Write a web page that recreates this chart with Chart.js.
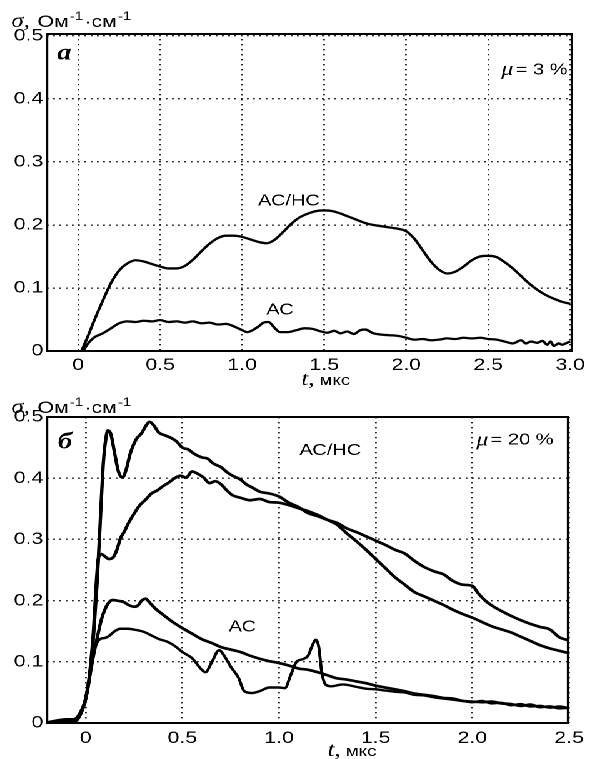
<!DOCTYPE html>
<html>
<head>
<meta charset="utf-8">
<script src="https://cdn.jsdelivr.net/npm/chart.js@4.4.1/dist/chart.umd.min.js"></script>
<style>
  html, body { margin: 0; padding: 0; background: #fff; overflow: hidden; }
  /* the original figure is stretched sideways, so the whole drawing is too */
  #wrap { position: absolute; left: 0; top: 0; width: 472px; height: 759px; transform: scaleX(1.25); transform-origin: 0 0; }
  #wrap canvas { position: absolute; left: 0; }
  #top { top: 0; }
  #bot { top: 390px; }
</style>
</head>
<body>
<div id="wrap">
  <canvas id="top" width="472" height="390"></canvas>
  <canvas id="bot" width="472" height="369"></canvas>
</div>
<script>
// ---- panel а, mu = 3 % ----
const topXTicks = [0, 0.5, 1.0, 1.5, 2.0, 2.5, 3.0];
const topXLabels = ['0', '0.5', '1.0', '1.5', '2.0', '2.5', '3.0'];
const yTicks = [0, 0.1, 0.2, 0.3, 0.4, 0.5];
const yLabels = ['0', '0.1', '0.2', '0.3', '0.4', '0.5'];

const topHcT = [0.02, 0.06, 0.1, 0.15, 0.2, 0.25, 0.3, 0.35, 0.4, 0.45, 0.5, 0.55, 0.6, 0.65, 0.7, 0.75, 0.8, 0.85, 0.9, 0.95,
  1.0, 1.05, 1.1, 1.15, 1.2, 1.25, 1.3, 1.35, 1.4, 1.45, 1.5, 1.55, 1.6, 1.65, 1.7, 1.75, 1.8, 1.85, 1.9, 1.95,
  2.0, 2.05, 2.1, 2.15, 2.2, 2.25, 2.3, 2.35, 2.4, 2.45, 2.5, 2.55, 2.6, 2.65, 2.7, 2.75, 2.8, 2.85, 2.9, 2.95, 3.0];
const topHcS = [0, 0.024, 0.05, 0.08, 0.108, 0.128, 0.139, 0.144, 0.142, 0.138, 0.134, 0.131, 0.131, 0.135, 0.145, 0.158, 0.17, 0.179, 0.183, 0.183,
  0.181, 0.177, 0.173, 0.171, 0.177, 0.189, 0.202, 0.212, 0.218, 0.222, 0.223, 0.222, 0.218, 0.213, 0.208, 0.203, 0.2, 0.198, 0.196, 0.194,
  0.19, 0.178, 0.16, 0.142, 0.129, 0.123, 0.126, 0.134, 0.144, 0.15, 0.151, 0.149, 0.141, 0.131, 0.119, 0.107, 0.097, 0.089, 0.083, 0.078, 0.075];

const topAcT = [0.03, 0.06, 0.1, 0.15, 0.2, 0.25, 0.3, 0.35, 0.4, 0.45, 0.5, 0.55, 0.6, 0.65, 0.7, 0.75, 0.8, 0.85, 0.9, 0.95,
  1.0, 1.03, 1.07, 1.1, 1.13, 1.16, 1.2, 1.23, 1.28, 1.33, 1.38, 1.43, 1.48, 1.52, 1.56, 1.6, 1.64, 1.68, 1.72, 1.75, 1.8, 1.85, 1.9, 1.95,
  2.0, 2.05, 2.1, 2.15, 2.2, 2.25, 2.3, 2.35, 2.4, 2.45, 2.5, 2.55, 2.6, 2.65, 2.7, 2.73, 2.76, 2.8, 2.83, 2.86, 2.88, 2.9, 2.93, 2.95, 2.98, 3.0];
const topAcS = [0, 0.012, 0.022, 0.028, 0.036, 0.044, 0.047, 0.046, 0.048, 0.047, 0.049, 0.046, 0.047, 0.045, 0.047, 0.044, 0.045, 0.042, 0.043, 0.039,
  0.033, 0.030, 0.034, 0.039, 0.045, 0.046, 0.036, 0.030, 0.030, 0.033, 0.036, 0.035, 0.031, 0.029, 0.032, 0.028, 0.031, 0.027, 0.033, 0.034, 0.028, 0.026, 0.025, 0.024,
  0.021, 0.018, 0.019, 0.017, 0.018, 0.020, 0.019, 0.021, 0.020, 0.021, 0.019, 0.018, 0.015, 0.012, 0.017, 0.012, 0.015, 0.013, 0.016, 0.010, 0.015, 0.008, 0.012, 0.010, 0.013, 0.015];

// ---- panel б, mu = 20 % ----
const botXTicks = [0, 0.5, 1.0, 1.5, 2.0, 2.5];
const botXLabels = ['0', '0.5', '1.0', '1.5', '2.0', '2.5'];

const botHc1T = [-0.2, -0.15, -0.1, -0.06, -0.03, 0, 0.02, 0.04, 0.06, 0.08, 0.09, 0.1, 0.115, 0.13, 0.15, 0.17, 0.19, 0.21, 0.23, 0.26, 0.29, 0.31, 0.33, 0.35, 0.38,
  0.41, 0.44, 0.47, 0.5, 0.53, 0.56, 0.6, 0.63, 0.66, 0.7, 0.73, 0.76, 0.8, 0.83, 0.86, 0.9, 0.95, 1.0, 1.05, 1.1, 1.15, 1.2, 1.25, 1.3, 1.35, 1.4, 1.45, 1.5,
  1.55, 1.6, 1.65, 1.7, 1.75, 1.8, 1.85, 1.9, 1.95, 2.0, 2.03, 2.07, 2.11, 2.15, 2.2, 2.25, 2.3, 2.35, 2.4, 2.45, 2.5];
const botHc1S = [0.001, 0.004, 0.006, 0.006, 0.016, 0.04, 0.075, 0.14, 0.235, 0.36, 0.42, 0.455, 0.478, 0.472, 0.44, 0.41, 0.401, 0.415, 0.44, 0.463, 0.474, 0.485, 0.492, 0.487, 0.474,
  0.47, 0.466, 0.46, 0.45, 0.447, 0.44, 0.434, 0.432, 0.424, 0.418, 0.41, 0.404, 0.398, 0.39, 0.385, 0.378, 0.375, 0.37, 0.36, 0.353, 0.343, 0.338, 0.332, 0.327, 0.318, 0.312, 0.305, 0.298,
  0.291, 0.283, 0.277, 0.265, 0.255, 0.248, 0.243, 0.232, 0.226, 0.224, 0.212, 0.199, 0.19, 0.183, 0.175, 0.168, 0.162, 0.157, 0.153, 0.14, 0.135];

const botHc2T = [-0.2, -0.15, -0.1, -0.06, -0.03, 0, 0.02, 0.04, 0.055, 0.065, 0.08, 0.1, 0.12, 0.14, 0.16, 0.18, 0.2, 0.22, 0.25, 0.28, 0.31, 0.34, 0.37, 0.4, 0.43, 0.46, 0.49,
  0.52, 0.55, 0.58, 0.61, 0.64, 0.67, 0.7, 0.73, 0.76, 0.8, 0.85, 0.9, 0.95, 1.0, 1.05, 1.1, 1.15, 1.2, 1.25, 1.3, 1.35, 1.4, 1.45, 1.5,
  1.55, 1.6, 1.65, 1.7, 1.75, 1.8, 1.85, 1.9, 1.95, 2.0, 2.05, 2.1, 2.15, 2.2, 2.25, 2.3, 2.35, 2.4, 2.45, 2.5];
const botHc2S = [0, 0.002, 0.003, 0.002, 0.012, 0.04, 0.08, 0.15, 0.23, 0.268, 0.276, 0.272, 0.268, 0.27, 0.282, 0.302, 0.313, 0.326, 0.342, 0.356, 0.365, 0.375, 0.38, 0.387, 0.393, 0.4, 0.404,
  0.401, 0.411, 0.407, 0.401, 0.392, 0.395, 0.39, 0.38, 0.372, 0.368, 0.364, 0.366, 0.361, 0.36, 0.356, 0.351, 0.346, 0.34, 0.332, 0.324, 0.31, 0.297, 0.283, 0.268,
  0.253, 0.238, 0.226, 0.214, 0.207, 0.2, 0.193, 0.185, 0.178, 0.172, 0.165, 0.158, 0.153, 0.148, 0.141, 0.134, 0.127, 0.122, 0.118, 0.114];

const botAc1T = [-0.2, -0.1, -0.05, -0.02, 0, 0.02, 0.04, 0.06, 0.08, 0.1, 0.12, 0.14, 0.16, 0.18, 0.2, 0.22, 0.25, 0.27, 0.29, 0.31, 0.33, 0.36, 0.4, 0.45, 0.5,
  0.55, 0.6, 0.65, 0.7, 0.75, 0.8, 0.85, 0.9, 0.95, 1.0, 1.05, 1.1, 1.15, 1.2, 1.25, 1.3, 1.35, 1.4, 1.45, 1.5, 1.55, 1.6, 1.65, 1.7, 1.75, 1.8, 1.85, 1.9, 1.95,
  2.0, 2.05, 2.1, 2.15, 2.2, 2.25, 2.3, 2.35, 2.4, 2.45, 2.5];
const botAc1S = [0, 0.004, 0.006, 0.02, 0.04, 0.075, 0.11, 0.14, 0.168, 0.186, 0.197, 0.201, 0.2, 0.199, 0.197, 0.193, 0.19, 0.192, 0.2, 0.203, 0.197, 0.187, 0.177, 0.165, 0.155,
  0.146, 0.137, 0.131, 0.124, 0.12, 0.116, 0.11, 0.105, 0.101, 0.098, 0.094, 0.089, 0.087, 0.083, 0.078, 0.073, 0.071, 0.068, 0.065, 0.061, 0.058, 0.055, 0.052, 0.048, 0.046, 0.044, 0.041, 0.04, 0.036,
  0.035, 0.034, 0.035, 0.032, 0.031, 0.028, 0.03, 0.026, 0.027, 0.024, 0.025];

const botAc2T = [-0.2, -0.1, -0.05, -0.02, 0, 0.02, 0.04, 0.06, 0.08, 0.1, 0.12, 0.15, 0.18, 0.22, 0.26, 0.3, 0.34, 0.38, 0.42, 0.46, 0.5, 0.55, 0.6, 0.62, 0.65, 0.69,
  0.72, 0.75, 0.79, 0.82, 0.86, 0.9, 0.95, 1.0, 1.03, 1.06, 1.09, 1.12, 1.15, 1.17, 1.19, 1.205, 1.22, 1.24, 1.27, 1.33, 1.4, 1.45, 1.5, 1.55, 1.6, 1.65, 1.7, 1.75,
  1.8, 1.85, 1.9, 1.95, 2.0, 2.05, 2.1, 2.15, 2.2, 2.25, 2.3, 2.35, 2.4, 2.45, 2.5];
const botAc2S = [0, 0.003, 0.008, 0.02, 0.04, 0.075, 0.115, 0.132, 0.138, 0.139, 0.142, 0.15, 0.154, 0.154, 0.152, 0.149, 0.143, 0.137, 0.133, 0.126, 0.116, 0.106, 0.087, 0.083, 0.098, 0.119,
  0.108, 0.092, 0.074, 0.052, 0.049, 0.052, 0.058, 0.058, 0.057, 0.078, 0.1, 0.104, 0.11, 0.125, 0.136, 0.125, 0.085, 0.063, 0.06, 0.063, 0.059, 0.056, 0.055, 0.053, 0.051, 0.05, 0.046, 0.045,
  0.042, 0.04, 0.038, 0.036, 0.034, 0.036, 0.032, 0.033, 0.029, 0.031, 0.027, 0.028, 0.025, 0.027, 0.024];

const SANS = '"Liberation Sans", Arial, sans-serif';
const SERIF = '"Liberation Serif", "Times New Roman", serif';

function pts(ts, ss) {
  return ts.map((t, i) => ({x: t, y: ss[i]}));
}

function line(ts, ss, w) {
  return {
    data: pts(ts, ss),
    borderColor: '#000',
    borderWidth: w,
    pointRadius: 0,
    fill: false,
    cubicInterpolationMode: 'monotone'
  };
}

// draws a run of text pieces one after another
function pieces(ctx, x, y, list) {
  list.forEach((p) => {
    ctx.font = p.font;
    ctx.fillText(p.text, x, y + (p.dy || 0));
    x += ctx.measureText(p.text).width + (p.gap || 0);
  });
}

const frame = {
  id: 'frame',
  afterDraw(chart, args, o) {
    const {ctx, chartArea: a, scales} = chart;
    const px = (t) => scales.x.getPixelForValue(t);
    const py = (s) => scales.y.getPixelForValue(s);
    ctx.save();
    ctx.strokeStyle = '#000';
    ctx.lineWidth = 2;
    ctx.strokeRect(a.left, a.top, a.right - a.left, a.bottom - a.top);

    ctx.fillStyle = '#000';
    ctx.textBaseline = 'middle';
    ctx.textAlign = 'center';
    ctx.font = 'bold italic 23px ' + SERIF;
    ctx.fillText(o.panel.text, px(o.panel.t), py(o.panel.s));

    ctx.font = '16px ' + SANS;
    o.labels.forEach((l) => ctx.fillText(l.text, px(l.t), py(l.s)));

    ctx.textAlign = 'left';
    pieces(ctx, px(o.mu.t), py(o.mu.s), [
      {text: 'μ', font: 'italic 19px ' + SERIF, gap: 2},
      {text: '= ' + o.mu.text, font: '16px ' + SANS}
    ]);

    // axis titles
    ctx.textBaseline = 'alphabetic';
    pieces(ctx, 9, o.yTitleY, [
      {text: 'σ,', font: 'italic 20px ' + SERIF, gap: 6},
      {text: 'Ом', font: '17px ' + SANS, gap: 1},
      {text: '-1', font: '12px ' + SANS, dy: -7, gap: 1},
      {text: '·см', font: '17px ' + SANS, gap: 1},
      {text: '-1', font: '12px ' + SANS, dy: -7}
    ]);
    pieces(ctx, o.xTitle.x, o.xTitle.y, [
      {text: 't,', font: 'italic 20px ' + SERIF, gap: 4},
      {text: 'мкс', font: '15px ' + SANS}
    ]);
    ctx.restore();
  }
};

function makeChart(id, cfg) {
  return new Chart(document.getElementById(id), {
    type: 'line',
    data: {datasets: cfg.series},
    options: {
      responsive: false,
      animation: false,
      devicePixelRatio: 2,
      layout: {padding: {left: 0, right: 12, top: cfg.top, bottom: 0}},
      plugins: {legend: {display: false}, tooltip: {enabled: false}, frame: cfg.frame},
      scales: {
        x: {
          type: 'linear',
          min: cfg.xMin,
          max: cfg.xMax,
          afterBuildTicks: (s) => { s.ticks = cfg.xTicks.map((v) => ({value: v})); },
          afterFit: (s) => { s.height = cfg.xHeight; },
          ticks: {
            autoSkip: false, maxRotation: 0, padding: cfg.xPad, color: '#000',
            font: {family: SANS, size: 17},
            callback: (v, i) => cfg.xLabels[i]
          },
          grid: {color: '#222', lineWidth: 1.4, drawTicks: false},
          border: {display: false, dash: [1.4, 3.6]}
        },
        y: {
          type: 'linear',
          min: 0,
          max: cfg.yMax,
          afterBuildTicks: (s) => { s.ticks = yTicks.map((v) => ({value: v})); },
          afterFit: (s) => { s.width = 37.6; },
          ticks: {
            padding: 3, color: '#000',
            font: {family: SANS, size: 17},
            callback: (v, i) => yLabels[i]
          },
          grid: {color: '#222', lineWidth: 1.4, drawTicks: false},
          border: {display: false, dash: [1.4, 3.6]}
        }
      }
    },
    plugins: [frame]
  });
}

makeChart('top', {
  series: [line(topHcT, topHcS, 2.3), line(topAcT, topAcS, 2.3)],
  top: 34, xHeight: 39, xPad: 4,
  xMin: -0.19, xMax: 3.01, yMax: 0.503,
  xTicks: topXTicks, xLabels: topXLabels,
  frame: {
    panel: {text: 'а', t: -0.085, s: 0.472},
    mu: {text: '3 %', t: 2.58, s: 0.446},
    labels: [{text: 'АС/НС', t: 1.285, s: 0.238}, {text: 'АС', t: 1.23, s: 0.065}],
    yTitleY: 27,
    xTitle: {x: 241, y: 385}
  }
});

makeChart('bot', {
  series: [line(botHc1T, botHc1S, 2.7), line(botHc2T, botHc2S, 2.7), line(botAc1T, botAc1S, 2.7), line(botAc2T, botAc2S, 2.4)],
  top: 27, xHeight: 36, xPad: 5,
  xMin: -0.2, xMax: 2.495, yMax: 0.5,
  xTicks: botXTicks, xLabels: botXLabels,
  frame: {
    panel: {text: 'б', t: -0.107, s: 0.458},
    mu: {text: '20 %', t: 2.02, s: 0.462},
    labels: [{text: 'АС/НС', t: 1.265, s: 0.445}, {text: 'АС', t: 0.81, s: 0.157}],
    yTitleY: 23,
    xTitle: {x: 262, y: 366}
  }
});
</script>
</body>
</html>
